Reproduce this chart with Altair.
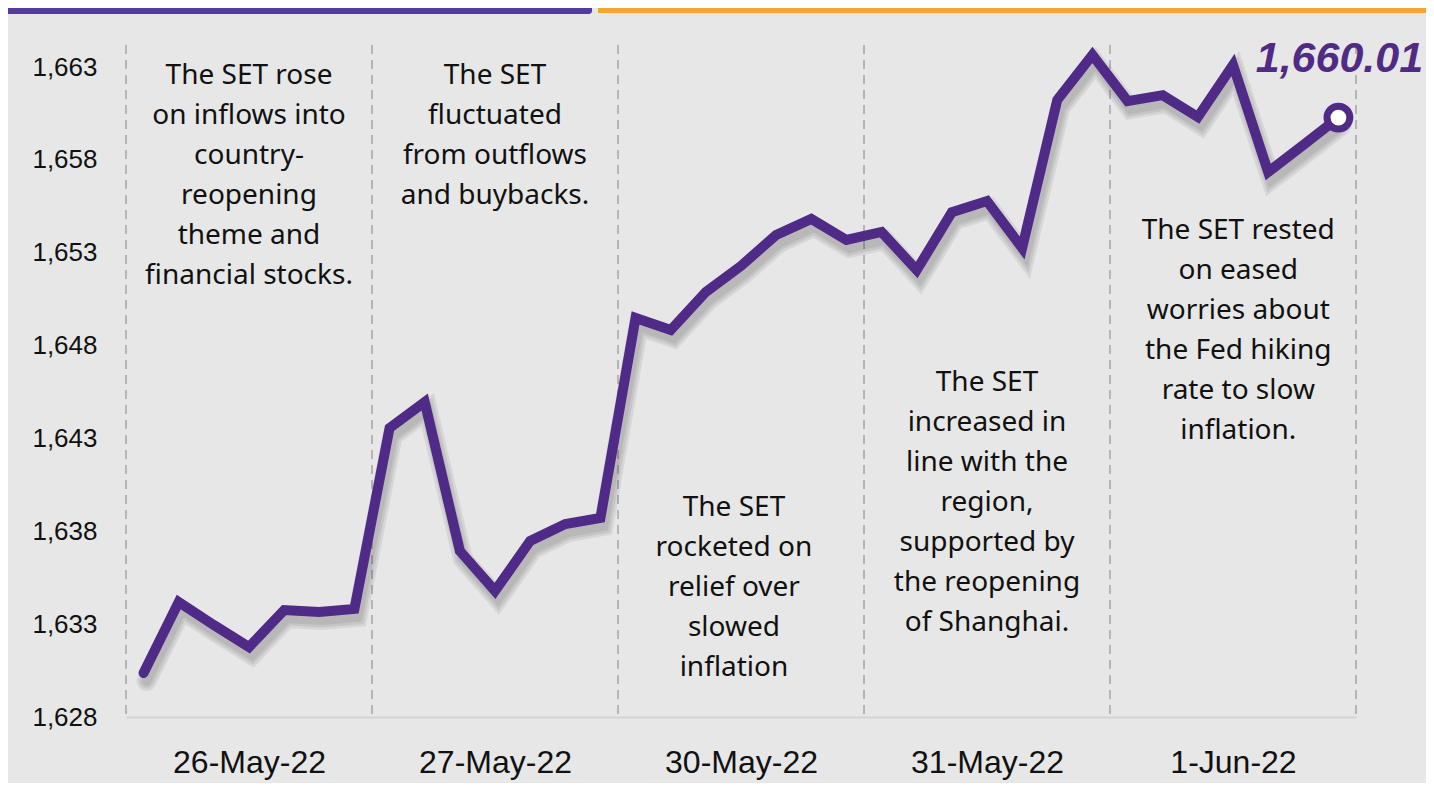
import altair as alt
import pandas as pd

# ---- data -------------------------------------------------------------
days = ["26-May-22", "27-May-22", "30-May-22", "31-May-22", "1-Jun-22"]
points_per_day = 7

set_index = [
    1630.10, 1633.92, 1632.68, 1631.50, 1633.49, 1633.38, 1633.55,
    1643.29, 1644.69, 1636.67, 1634.52, 1637.21, 1638.12, 1638.45,
    1649.22, 1648.57, 1650.62, 1652.02, 1653.69, 1654.55, 1653.42,
    1653.85, 1651.80, 1654.92, 1655.52, 1652.99, 1660.96, 1663.38,
    1660.90, 1661.22, 1660.04, 1662.84, 1657.08, 1658.53, 1660.01,
]

y_ticks = [1627.73, 1632.73, 1637.73, 1642.73, 1647.73, 1652.73, 1657.73, 1662.73]
y_domain = [1627.73, 1663.92]

notes = [
    ["The SET rose", "on inflows into", "country-", "reopening", "theme and", "financial stocks."],
    ["The SET", "fluctuated", "from outflows", "and buybacks."],
    ["The SET", "rocketed on", "relief over", "slowed", "inflation"],
    ["The SET", "increased in", "line with the", "region,", "supported by", "the reopening", "of Shanghai."],
    ["The SET rested", "on eased", "worries about", "the Fed hiking", "rate to slow", "inflation."],
]
note_x = [3.0, 10.0, 16.8, 24.0, 31.15]
note_top = [1662.99, 1662.99, 1639.74, 1646.47, 1654.65]

# ---- tables -----------------------------------------------------------
n = len(set_index)
line_df = pd.DataFrame({"i": list(range(n)), "v": set_index})
last_df = line_df.tail(1).assign(label=lambda d: d["v"].map(lambda x: f"{x:,.2f}"))
centers = [d * points_per_day + (points_per_day - 1) / 2 for d in range(len(days))]
sep_df = pd.DataFrame({"i": [d * points_per_day - 0.5 for d in range(len(days) + 1)]})
note_df = pd.DataFrame({"i": note_x, "v": note_top, "t": notes})

PURPLE = "#4f2a86"
W, H = 1230, 672

xs = alt.Scale(domain=[-0.5, n - 0.5], nice=False, zero=False)
ys = alt.Scale(domain=y_domain, nice=False, zero=False)

label_expr = "[" + ",".join(f"'{d}'" for d in days) + f"][round((datum.value-{centers[0]})/{points_per_day})]"

x_axis = alt.Axis(
    values=centers, labelExpr=label_expr, title=None, grid=False, ticks=False,
    domain=True, domainColor="#d4d4d4", domainWidth=2,
    labelFont="Liberation Sans", labelFontSize=32, labelColor="#111111",
    labelPadding=30, labelFlush=False,
)
y_axis = alt.Axis(
    values=y_ticks, format=",.0f", title=None, grid=False, ticks=False, domain=False,
    labelFont="Liberation Sans", labelFontSize=26, labelColor="#111111",
    labelPadding=29,
)

X = alt.X("i:Q", scale=xs, axis=x_axis)
Y = alt.Y("v:Q", scale=ys, axis=y_axis)

seps = alt.Chart(sep_df).mark_rule(color="#a8a8a8", strokeWidth=1.6, strokeDash=[9, 6]).encode(
    x=X, y=alt.value(0), y2=alt.value(H)
)

shadows = [
    alt.Chart(line_df).mark_line(color="#000000", opacity=0.07, strokeWidth=w,
                                 xOffset=3, yOffset=8, strokeCap="round")
    .encode(x=X, y=Y)
    for w in (20, 15, 10)
]

main = alt.Chart(line_df).mark_line(color=PURPLE, strokeWidth=10, strokeCap="round").encode(
    x=X, y=Y
)

end_pt = alt.Chart(last_df).mark_point(
    filled=True, fill="white", stroke=PURPLE, strokeWidth=7, size=520, opacity=1, shape="circle"
).encode(x=X, y=Y)

end_lbl = alt.Chart(last_df).mark_text(
    font="Liberation Sans", fontSize=43, fontWeight="bold", fontStyle="italic",
    color=PURPLE, align="center", baseline="alphabetic", dx=1, dy=-46,
).encode(x=X, y=Y, text="label:N")

note_txt = alt.Chart(note_df).mark_text(
    font="Noto Sans", fontSize=28, color="#111111", align="center", baseline="top", lineHeight=40,
).encode(x=X, y=Y, text="t")

one = pd.DataFrame({"k": [0]})
bar_purple = alt.Chart(one).mark_rect(color="#553c9a", cornerRadiusBottomRight=10).encode(
    x=alt.value(-118), x2=alt.value(466), y=alt.value(-37), y2=alt.value(-31)
)
bar_orange = alt.Chart(one).mark_rect(color="#f5a431").encode(
    x=alt.value(472), x2=alt.value(1300), y=alt.value(-37), y2=alt.value(-32)
)

chart = alt.layer(
    seps, *shadows, main, end_pt, end_lbl, note_txt, bar_purple, bar_orange
).properties(
    width=W, height=H, autosize="none",
    padding={"left": 118, "top": 37, "right": 70, "bottom": 66},
    background="#e7e7e7",
).configure_view(stroke=None)

chart.save("out.html", embed_options={"renderer": "svg", "actions": False})
